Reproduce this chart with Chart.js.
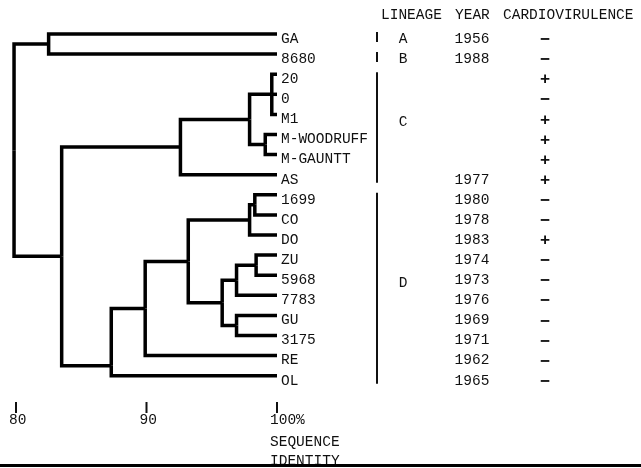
<!DOCTYPE html>
<html>
<head>
<meta charset="utf-8">
<script src="https://cdn.jsdelivr.net/npm/chart.js@4.4.0/dist/chart.umd.min.js"></script>
<style>
  html, body { margin: 0; padding: 0; background: #fff; }
  canvas { display: block; }
</style>
</head>
<body>
<canvas id="tree" width="641" height="468"></canvas>
<script>
/* ===============================
   Data
================================*/
const leaves = ["GA", "8680", "20", "0", "M1", "M-WOODRUFF", "M-GAUNTT", "AS",
  "1699", "CO", "DO", "ZU", "5968", "7783", "GU", "3175", "RE", "OL"];
const years = ["1956", "1988", "", "", "", "", "", "1977",
  "1980", "1978", "1983", "1974", "1973", "1976", "1969", "1971", "1962", "1965"];
const cardio = ["−", "−", "+", "−", "+", "+", "+", "+",
  "−", "−", "+", "−", "−", "−", "−", "−", "−", "−"];

const lineageNames = ["A", "B", "C", "D"];
const lineageFrom = ["GA", "8680", "20", "1699"];
const lineageTo = ["GA", "8680", "AS", "OL"];

// internal nodes of the tree: % sequence identity where the branches join
const nodeNames = ["AB", "C20", "CM", "Csub", "C", "D1699", "DDO", "DZU", "D7783",
  "DGU", "Dmid", "Dup", "DRE", "D", "CD", "root"];
const nodeIdentity = [82.5, 99.6, 99.1, 97.9, 92.6, 98.3, 97.9, 98.4, 96.9,
  96.9, 95.8, 93.2, 89.9, 87.3, 83.5, 79.85];
const nodeChildren = [
  ["GA", "8680"],
  ["20", "0", "M1"],
  ["M-WOODRUFF", "M-GAUNTT"],
  ["C20", "CM"],
  ["Csub", "AS"],
  ["1699", "CO"],
  ["D1699", "DO"],
  ["ZU", "5968"],
  ["DZU", "7783"],
  ["GU", "3175"],
  ["D7783", "DGU"],
  ["DDO", "Dmid"],
  ["Dup", "RE"],
  ["DRE", "OL"],
  ["C", "D"],
  ["AB", "CD"]
];
// row where a node's stem attaches, when the figure doesn't use the midpoint
const nodeRowOverride = { D: 16.5 };

const identityTicks = [80, 90, 100];
const identityTickLabels = ["80", "90", "100%"];
const axisTitle = ["SEQUENCE", "IDENTITY"];
const headers = ["LINEAGE", "YEAR", "CARDIOVIRULENCE"];

/* ===============================
   Tree layout -> line datasets
================================*/
function place(name) {
  const li = leaves.indexOf(name);
  if (li >= 0) return { x: 100, y: li, kids: [] };
  const ni = nodeNames.indexOf(name);
  const kids = nodeChildren[ni].map(place);
  const ys = kids.map((k) => k.y);
  const mid = (Math.min(...ys) + Math.max(...ys)) / 2;
  const y = name in nodeRowOverride ? nodeRowOverride[name] : mid;
  return { x: nodeIdentity[ni], y, kids };
}

const segments = [];
function collect(node) {
  node.kids.forEach((k) => {
    segments.push([{ x: node.x, y: node.y }, { x: node.x, y: k.y }, { x: k.x, y: k.y }]);
    collect(k);
  });
}
collect(place("root"));

const datasets = segments.map((pts) => ({
  data: pts,
  showLine: true,
  borderColor: "#000",
  borderWidth: 3.5,
  borderJoinStyle: "miter",
  pointRadius: 0,
  pointHoverRadius: 0
}));

/* ===============================
   Text and side columns
================================*/
const FONT = "14.5px 'Liberation Mono', 'Courier New', monospace";
const SIGN_FONT = "bold 16px 'DejaVu Sans Mono', monospace";

const textPlugin = {
  id: "treeText",
  afterDraw(chart) {
    const ctx = chart.ctx;
    const xs = chart.scales.x;
    const ys = chart.scales.y;
    const rowY = (i) => ys.getPixelForValue(i);
    const leafX = xs.getPixelForValue(100);

    ctx.save();
    ctx.fillStyle = "#111";
    ctx.strokeStyle = "#111";
    ctx.font = FONT;
    ctx.textBaseline = "middle";

    // header
    ctx.textAlign = "left";
    ctx.fillText(headers[0], 381, 15);
    ctx.fillText(headers[1], 455, 15);
    ctx.fillText(headers[2], 503, 15);

    // leaf names, years, cardiovirulence
    leaves.forEach((name, i) => {
      const y = rowY(i);
      ctx.font = FONT;
      ctx.textAlign = "left";
      ctx.fillText(name, leafX + 4, y + 5);
      ctx.textAlign = "center";
      if (years[i]) ctx.fillText(years[i], 472, y + 5);
      ctx.font = SIGN_FONT;
      ctx.fillText(cardio[i], 545, y + 6);
    });

    // lineage bars + letters
    ctx.font = FONT;
    ctx.lineWidth = 2;
    lineageNames.forEach((lab, i) => {
      const a = rowY(leaves.indexOf(lineageFrom[i]));
      const b = rowY(leaves.indexOf(lineageTo[i]));
      ctx.beginPath();
      ctx.moveTo(377, a - 2);
      ctx.lineTo(377, b + 8);
      ctx.stroke();
      ctx.textAlign = "center";
      ctx.fillText(lab, 403, (a + b) / 2 + (a === b ? 5 : -2));
    });

    // identity scale at the bottom
    ctx.lineWidth = 2;
    identityTicks.forEach((v, i) => {
      const x = xs.getPixelForValue(v);
      ctx.beginPath();
      ctx.moveTo(x, 402);
      ctx.lineTo(x, 413);
      ctx.stroke();
      ctx.textAlign = "left";
      ctx.fillText(identityTickLabels[i], x - 7, 420);
    });
    const tx = xs.getPixelForValue(100) - 7;
    ctx.fillText(axisTitle[0], tx, 442);
    ctx.fillText(axisTitle[1], tx, 461);

    // rule under the figure
    ctx.fillStyle = "#000";
    ctx.fillRect(0, 464, chart.width, 3);
    ctx.restore();
  }
};

/* ===============================
   Chart
================================*/
const PX_PER_PCT = 13.05;
const X_MIN = 80 - 16 / PX_PER_PCT;
const ROW_PX = 20.1;
const Y_MIN = -34 / ROW_PX;

new Chart(document.getElementById("tree"), {
  type: "scatter",
  data: { datasets },
  options: {
    responsive: false,
    animation: false,
    devicePixelRatio: 1,
    layout: { padding: 0 },
    plugins: { legend: { display: false }, tooltip: { enabled: false } },
    scales: {
      x: { type: "linear", display: false, min: X_MIN, max: X_MIN + 641 / PX_PER_PCT },
      y: { type: "linear", display: false, reverse: true, min: Y_MIN, max: Y_MIN + 468 / ROW_PX }
    }
  },
  plugins: [textPlugin]
});
</script>
</body>
</html>
